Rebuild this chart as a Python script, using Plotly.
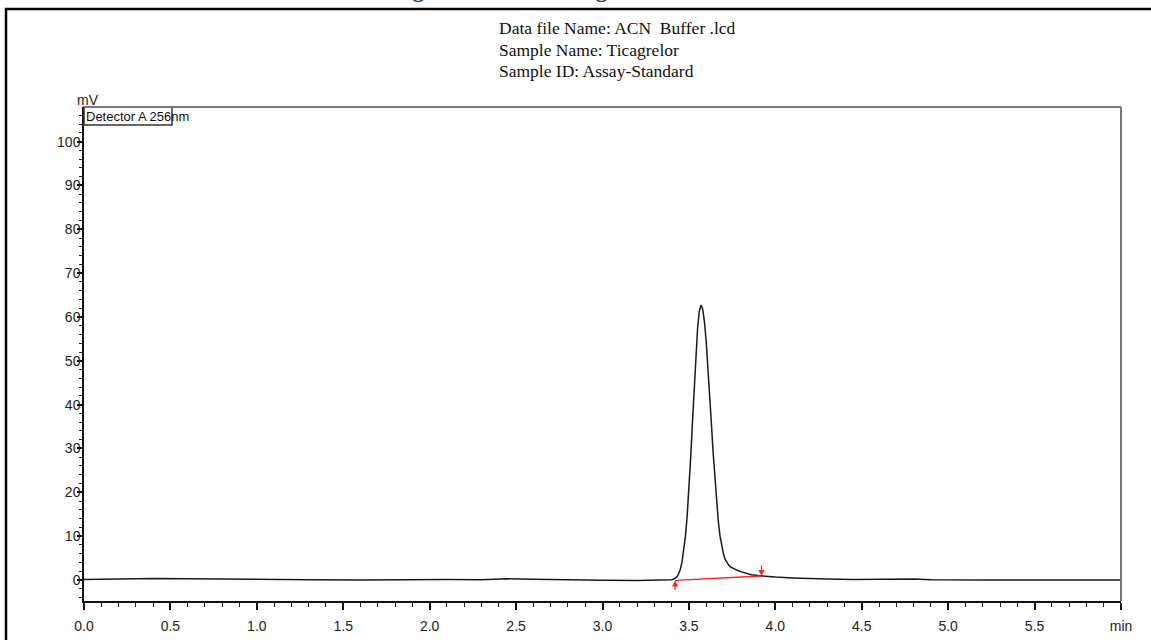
import plotly.graph_objects as go

# ---------------- data ----------------
time_min = [0.00, 0.20, 0.40, 0.60, 0.80, 1.00, 1.30, 1.60, 1.80, 1.95, 2.10, 2.30, 2.45, 2.60, 2.80,
            3.00, 3.20, 3.35, 3.40, 3.41, 3.42, 3.43, 3.44, 3.45, 3.46, 3.47, 3.48, 3.49, 3.50,
            3.51, 3.52, 3.53, 3.54, 3.55, 3.56, 3.57, 3.58, 3.59, 3.60, 3.61, 3.62, 3.63, 3.64,
            3.65, 3.66, 3.67, 3.68, 3.69, 3.70, 3.71, 3.72, 3.73, 3.74, 3.76, 3.78, 3.80, 3.83,
            3.86, 3.90, 3.92, 3.95, 4.00, 4.10, 4.20, 4.30, 4.45, 4.60, 4.70, 4.75, 4.80, 4.90,
            5.00, 5.20, 5.40, 5.60, 5.80, 6.00]
signal_mv = [0.10, 0.20, 0.35, 0.25, 0.15, 0.10, 0.05, 0.00, 0.05, 0.20, 0.10, 0.05, 0.25, 0.15, 0.00,
             -0.05, -0.10, -0.10, 0.05, 0.15, 0.35, 0.70, 1.35, 2.40, 4.05, 6.50, 10.0, 14.7, 20.7,
             27.8, 35.6, 43.7, 51.1, 57.3, 61.3, 62.7, 61.7, 58.9, 54.4, 48.8, 42.4, 35.7, 29.1,
             23.0, 17.8, 13.4, 10.0, 7.6, 5.9, 4.7, 3.95, 3.4, 3.0, 2.5, 2.2, 1.9, 1.5,
             1.2, 1.0, 0.9, 0.8, 0.65, 0.45, 0.30, 0.20, 0.10, 0.15, 0.30, 0.35, 0.20, 0.05,
             0.00, 0.00, 0.00, 0.00, 0.00, 0.00]

baseline_t = [3.42, 3.92]
baseline_v = [-0.1, 0.9]

x_tickvals = [0.0, 0.5, 1.0, 1.5, 2.0, 2.5, 3.0, 3.5, 4.0, 4.5, 5.0, 5.5, 6.0]
x_ticktext = ["0.0", "0.5", "1.0", "1.5", "2.0", "2.5", "3.0", "3.5", "4.0", "4.5", "5.0", "5.5", "min"]
y_tickvals = [0, 10, 20, 30, 40, 50, 60, 70, 80, 90, 100]

header_lines = ["Data file Name: ACN  Buffer .lcd", "Sample Name: Ticagrelor", "Sample ID: Assay-Standard"]
detector_label = "Detector A 256nm"
caption = "Figure 5: Chromatogram of Standard"

# ---------------- layout helpers (pixel geometry) ----------------
W, H = 1151, 640
L, R, T, B = 84, 30, 107, 39
PW, PH = W - L - R, H - T - B


def px(xp):
    return (xp - L) / PW


def py(yp):
    return (H - B - yp) / PH


fig = go.Figure()
fig.add_trace(go.Scatter(x=time_min, y=signal_mv, mode="lines",
                         line=dict(color="#1a1a1a", width=1.5), hoverinfo="skip", showlegend=False))
fig.add_trace(go.Scatter(x=baseline_t, y=baseline_v, mode="lines",
                         line=dict(color="#ff2020", width=1.3), hoverinfo="skip", showlegend=False))

annotations = []
# integration markers
annotations.append(dict(x=baseline_t[0], y=baseline_v[0], xref="x", yref="y", ax=0, ay=11,
                        showarrow=True, arrowhead=2, arrowsize=1.0, arrowwidth=1.2,
                        arrowcolor="#ff2020", text=""))
annotations.append(dict(x=baseline_t[1], y=baseline_v[1], xref="x", yref="y", ax=0, ay=-12,
                        showarrow=True, arrowhead=2, arrowsize=1.0, arrowwidth=1.2,
                        arrowcolor="#ff2020", text=""))
# header
for i, line in enumerate(header_lines):
    annotations.append(dict(x=px(497), y=py(28 + i * 21.5), xref="paper", yref="paper",
                            xanchor="left", yanchor="middle", showarrow=False, text=line,
                            font=dict(family="Liberation Serif", size=17.5, color="#111")))
# caption (cut off at top of page, as in the source document)
annotations.append(dict(x=px(585), y=py(4), xref="paper", yref="paper", xanchor="center",
                        yanchor="bottom", showarrow=False, text="<b>" + caption + "</b>",
                        font=dict(family="Liberation Serif", size=24, color="#1f3a6e")))
# mV unit label
annotations.append(dict(x=px(88), y=py(100), xref="paper", yref="paper", xanchor="center",
                        yanchor="middle", showarrow=False, text="mV",
                        font=dict(family="Liberation Sans", size=14, color="#222")))
# detector label
annotations.append(dict(x=px(84), y=py(117), xref="paper", yref="paper", xanchor="left",
                        yanchor="middle", showarrow=False, text=detector_label,
                        font=dict(family="Liberation Sans", size=13, color="#111")))

shapes = [
    # detector box
    dict(type="rect", xref="paper", yref="paper", x0=px(84), x1=px(172), y0=py(125), y1=py(107),
         line=dict(color="#333", width=1.5)),
    # top and right frame of the plot
    dict(type="line", xref="paper", yref="paper", x0=0, x1=1, y0=1, y1=1,
         line=dict(color="#777", width=2)),
    dict(type="line", xref="paper", yref="paper", x0=1, x1=1, y0=0, y1=1,
         line=dict(color="#777", width=2)),
    # outer page frame
    dict(type="rect", xref="paper", yref="paper", x0=px(6), x1=px(1170), y0=py(660), y1=py(9),
         line=dict(color="#000", width=2.5)),
]

fig.update_layout(
    width=W, height=H,
    margin=dict(l=L, r=R, t=T, b=B, autoexpand=False),
    paper_bgcolor="white", plot_bgcolor="white",
    annotations=annotations, shapes=shapes,
    font=dict(family="Liberation Sans", size=14, color="#222"),
)
fig.update_xaxes(range=[0, 6.0], tickvals=x_tickvals, ticktext=x_ticktext,
                 ticks="outside", ticklen=7, tickwidth=1.5, tickcolor="#111",
                 minor=dict(dtick=0.1, ticks="outside", ticklen=4, tickwidth=1.2, tickcolor="#222"),
                 showline=True, linecolor="#111", linewidth=1.5, showgrid=False, zeroline=False,
                 ticklabelstandoff=4, tickfont=dict(family="Liberation Sans", size=14, color="#222"),
                 automargin=False)
fig.update_yaxes(range=[-4.8, 107.9], tickvals=y_tickvals,
                 ticks="outside", ticklen=5, tickwidth=1.5, tickcolor="#111",
                 minor=dict(dtick=2, ticks="outside", ticklen=3, tickwidth=1.2, tickcolor="#222"),
                 showline=True, linecolor="#111", linewidth=1.5, showgrid=False, zeroline=False,
                 ticklabelstandoff=-6, tickfont=dict(family="Liberation Sans", size=14, color="#222"),
                 automargin=False)

fig.write_html("out.html", config={"displayModeBar": False},
               post_script="document.body.style.margin='0';document.body.style.overflow='hidden';")
